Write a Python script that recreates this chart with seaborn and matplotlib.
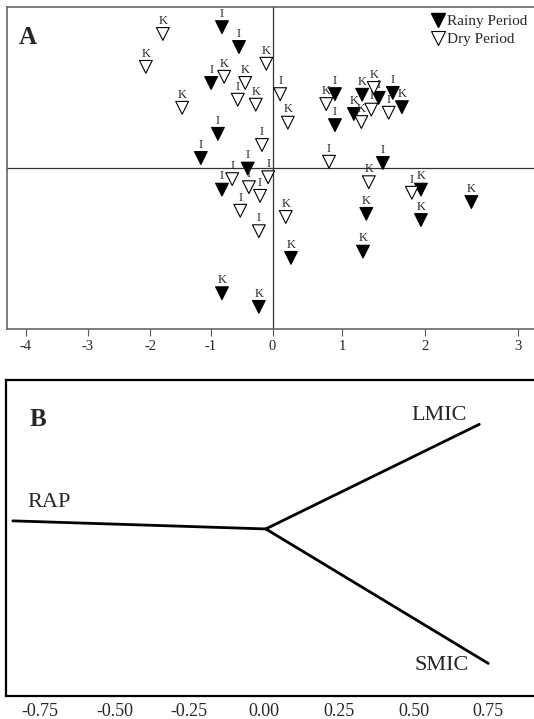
import numpy as np
import pandas as pd
import matplotlib.pyplot as plt
import seaborn as sns
from matplotlib.lines import Line2D

sns.set_style('ticks')
plt.rcParams['font.family'] = ['Liberation Serif', 'DejaVu Serif']
plt.rcParams['axes.unicode_minus'] = False

# ---- panel A: sample scores, rainy vs dry period ----
rainy_x = [-0.815, -0.54, -0.99, -0.88, -1.16, -0.40, -0.815, -0.815, -0.22, 0.265,
           0.895, 0.895, 1.24, 1.44, 1.61, 1.72, 1.14, 1.49, 1.29, 1.25, 1.95, 1.95, 2.50]
rainy_y = [2.27, 1.95, 1.37, 0.55, 0.16, -0.01, -0.35, -2.02, -2.24, -1.45,
           1.19, 0.69, 1.18, 1.13, 1.21, 0.98, 0.87, 0.08, -0.74, -1.35, -0.35, -0.84, -0.55]
rainy_lab = ['I', 'I', 'I', 'I', 'I', 'I', 'I', 'K', 'K', 'K',
             'I', 'I', 'K', 'I', 'I', 'K', 'K', 'I', 'K', 'K', 'K', 'K', 'K']

dry_x = [-1.79, -2.07, -0.10, -0.78, -0.44, -0.56, -0.27, -1.47, -0.17, 0.11,
         0.22, 0.77, 1.38, 1.23, 1.35, 1.56, 0.81, -0.65, -0.38, -0.20,
         -0.52, -0.22, -0.07, 0.19, 1.32, 1.84]
dry_y = [2.16, 1.63, 1.68, 1.47, 1.37, 1.10, 1.02, 0.97, 0.37, 1.19,
         0.73, 1.03, 1.29, 0.74, 0.94, 0.89, 0.10, -0.18, -0.31, -0.45,
         -0.69, -1.02, -0.15, -0.79, -0.23, -0.40]
dry_lab = ['K', 'K', 'K', 'K', 'K', 'I', 'K', 'K', 'I', 'I',
           'K', 'K', 'K', 'K', 'I', 'I', 'I', 'I', 'I', 'I',
           'I', 'I', 'I', 'K', 'K', 'I']

# the x axis of A is unevenly stretched in the source image
tick_vals = [-4, -3, -2, -1, 0, 1, 2, 3]
tick_px = [25.5, 87.9, 150.2, 210.5, 272.5, 342.3, 425.1, 517.7]

# ---- panel B: tree branches ----
branch = ['RAP', 'LMIC', 'SMIC']
branch_x = [-0.84, 0.72, 0.75]
branch_y = [0.027, 0.35, -0.45]
node_x, node_y = 0.006, 0.0

dfa = pd.DataFrame({
    'x': rainy_x + dry_x,
    'y': rainy_y + dry_y,
    'lab': rainy_lab + dry_lab,
    'period': ['Rainy Period'] * len(rainy_x) + ['Dry Period'] * len(dry_x),
})

rows = []
for b, bx, by in zip(branch, branch_x, branch_y):
    rows.append({'branch': b, 'x': node_x, 'y': node_y})
    rows.append({'branch': b, 'x': bx, 'y': by})
dfb = pd.DataFrame(rows)

fig = plt.figure(figsize=(5.34, 7.19), dpi=100)
W, H = 534, 719
axA = fig.add_axes([6.8 / W, 1 - 328.6 / H, (540 - 6.8) / W, (328.6 - 6.7) / H])
axB = fig.add_axes([6.1 / W, 1 - 696.3 / H, (540 - 6.1) / W, (696.3 - 379.5) / H])

# piecewise scale so ticks land where they do in the original
kd = [-20] + tick_vals + [20]
kp = [tick_px[0] - 16 * (tick_px[1] - tick_px[0])] + tick_px + [tick_px[-1] + 17 * (tick_px[-1] - tick_px[-2])]
fwd = lambda v: np.interp(v, kd, kp)
inv = lambda p: np.interp(p, kp, kd)
axA.set_xscale('function', functions=(fwd, inv))

axA.axhline(0, color='#333333', lw=0.9, zorder=1)
axA.axvline(0, color='#333333', lw=0.9, zorder=1)
sns.scatterplot(data=dfa, x='x', y='y', hue='period', marker='v', s=85,
                palette={'Rainy Period': 'black', 'Dry Period': 'white'},
                edgecolor='black', linewidth=0.8, legend=False, ax=axA, zorder=3)
for _, r in dfa.iterrows():
    axA.annotate(r['lab'], (r['x'], r['y']), xytext=(0, 9.5), textcoords='offset points',
                 ha='center', va='center', fontsize=9, zorder=4)

axA.set_xlim(inv(6.8), inv(540))
axA.set_ylim(-2.59, 2.6)
axA.set_xticks(tick_vals)
axA.set_xticklabels([str(t) for t in tick_vals], fontsize=10.5)
axA.set_yticks([])
axA.set_xlabel('')
axA.set_ylabel('')
axA.tick_params(axis='x', length=5, width=0.8, color='#555555', pad=3)
for s in ['left', 'top', 'bottom']:
    axA.spines[s].set_color('#666666')
    axA.spines[s].set_linewidth(1.2)
axA.spines['right'].set_visible(False)
axA.text(0.04, 0.903, 'A', transform=axA.transAxes, fontsize=18, fontweight='bold',
         ha='center', va='center')

handles = [Line2D([], [], marker='v', ls='', mfc='black', mec='black', ms=9.5),
           Line2D([], [], marker='v', ls='', mfc='white', mec='black', ms=9.5, mew=0.8)]
axA.legend(handles, ['Rainy Period', 'Dry Period'], loc='upper left',
           bbox_to_anchor=(0.797, 0.975), frameon=False, fontsize=11,
           handlelength=0.8, handletextpad=0.2, borderpad=0, borderaxespad=0,
           labelspacing=0.25)

# ---- panel B ----
sns.lineplot(data=dfb, x='x', y='y', units='branch', estimator=None, sort=False,
             color='black', lw=2, ax=axB)
axB.set_xlim((6.1 - 264) / 299, (540 - 264) / 299)
axB.set_ylim(-0.56, 0.5)
axB.set_xticks([-0.75, -0.5, -0.25, 0, 0.25, 0.5, 0.75])
axB.set_xticklabels(['-0.75', '-0.50', '-0.25', '0.00', '0.25', '0.50', '0.75'], fontsize=13)
axB.set_yticks([])
axB.set_xlabel('')
axB.set_ylabel('')
axB.tick_params(axis='x', length=0, pad=5)
for s in ['left', 'top', 'bottom']:
    axB.spines[s].set_color('black')
    axB.spines[s].set_linewidth(1.6)
axB.spines['right'].set_visible(False)
axB.text(0.059, 0.874, 'B', transform=axB.transAxes, fontsize=18, fontweight='bold',
         ha='center', va='center')
axB.text(0.585, 0.378, 'LMIC', fontsize=16, ha='center', va='center')
axB.text(-0.718, 0.088, 'RAP', fontsize=16, ha='center', va='center')
axB.text(0.595, -0.457, 'SMIC', fontsize=16, ha='center', va='center')

fig.savefig('out.png', dpi=100)
